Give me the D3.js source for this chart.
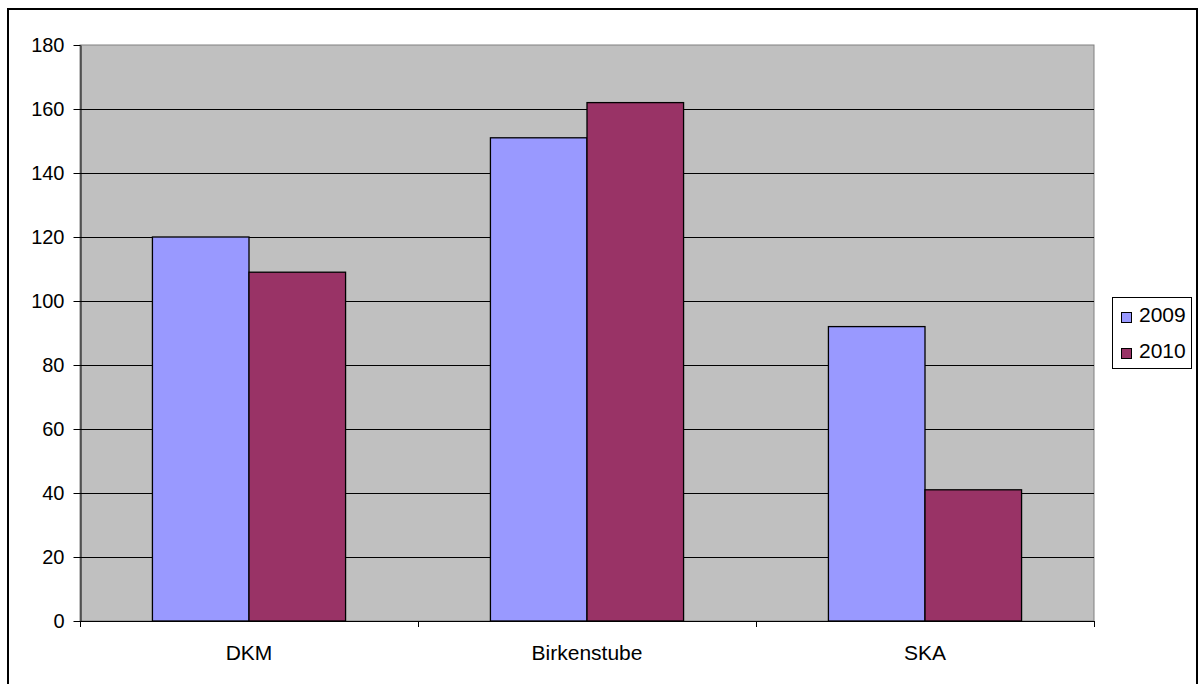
<!DOCTYPE html>
<html>
<head>
<meta charset="utf-8">
<script src="https://cdn.jsdelivr.net/npm/d3@7"></script>
<style>
  html, body { margin: 0; padding: 0; background: #fff; }
  svg { display: block; font-family: "Liberation Sans", Arial, sans-serif; }
</style>
</head>
<body>
<svg id="chart" width="1198" height="684"></svg>
<script>
const categories = ["DKM", "Birkenstube", "SKA"];
const seriesNames = ["2009", "2010"];
const values2009 = [120, 151, 92];
const values2010 = [109, 162, 41];
const yTicks = [0, 20, 40, 60, 80, 100, 120, 140, 160, 180];
const colors = ["#9999FF", "#993366"];

const svg = d3.select("#chart");

// outer chart frame
svg.append("rect")
  .attr("x", 8).attr("y", 9)
  .attr("width", 1189).attr("height", 680)
  .attr("fill", "#fff").attr("stroke", "#000").attr("stroke-width", 2);

const plot = { left: 80, right: 1094, top: 45, bottom: 621 };

const x0 = d3.scaleBand().domain(categories)
  .range([plot.left, plot.right]).paddingInner(0).paddingOuter(0);
const bandW = x0.bandwidth();
const barW = bandW / 3.5; // two bars plus a 150% gap
const x1 = d3.scaleBand().domain(seriesNames)
  .range([0, barW * 2]);

const y = d3.scaleLinear().domain([0, 180]).range([plot.bottom, plot.top]);

// plot area background
svg.append("rect")
  .attr("x", plot.left).attr("y", plot.top)
  .attr("width", plot.right - plot.left).attr("height", plot.bottom - plot.top)
  .attr("fill", "#C0C0C0").attr("stroke", "#808080").attr("stroke-width", 1);

// horizontal gridlines
svg.append("g").selectAll("line")
  .data(yTicks.filter(t => t > 0 && t < 180))
  .join("line")
  .attr("x1", plot.left).attr("x2", plot.right)
  .attr("y1", d => Math.round(y(d)) + 0.5).attr("y2", d => Math.round(y(d)) + 0.5)
  .attr("stroke", "#000").attr("stroke-width", 1);

// bars
const data = categories.map((c, i) => ({ cat: c, vals: [values2009[i], values2010[i]] }));
const groups = svg.append("g").selectAll("g")
  .data(data).join("g")
  .attr("transform", d => `translate(${x0(d.cat) + (bandW - barW * 2) / 2},0)`);
groups.selectAll("rect")
  .data(d => d.vals.map((v, j) => ({ name: seriesNames[j], v, j })))
  .join("rect")
  .attr("x", d => x1(d.name))
  .attr("y", d => y(d.v))
  .attr("width", x1.bandwidth())
  .attr("height", d => y(0) - y(d.v))
  .attr("fill", d => colors[d.j])
  .attr("stroke", "#000").attr("stroke-width", 1.3);

// y axis
const yAxis = d3.axisLeft(y).tickValues(yTicks).tickSize(7).tickSizeOuter(0).tickPadding(9);
const gy = svg.append("g").attr("transform", `translate(${plot.left + 0.5},0)`).call(yAxis);
gy.select(".domain").attr("stroke", "#000");
gy.selectAll(".tick line").attr("stroke", "#000");
gy.selectAll("text").attr("font-size", 20).attr("fill", "#000")
  .attr("font-family", "Liberation Sans, Arial, sans-serif");

// x axis: ticks at category boundaries
svg.append("line")
  .attr("x1", plot.left).attr("x2", plot.right)
  .attr("y1", plot.bottom + 0.5).attr("y2", plot.bottom + 0.5)
  .attr("stroke", "#000");
const bounds = categories.map(c => x0(c)).concat([plot.right]);
svg.append("g").selectAll("line").data(bounds).join("line")
  .attr("x1", d => Math.round(d) + 0.5).attr("x2", d => Math.round(d) + 0.5)
  .attr("y1", plot.bottom).attr("y2", plot.bottom + 6)
  .attr("stroke", "#000");
svg.append("g").selectAll("text").data(categories).join("text")
  .attr("x", d => x0(d) + bandW / 2)
  .attr("y", 660)
  .attr("text-anchor", "middle")
  .attr("font-size", 21)
  .attr("fill", "#000")
  .text(d => d);

// legend
const legend = svg.append("g");
legend.append("rect")
  .attr("x", 1112.5).attr("y", 297.5).attr("width", 79).attr("height", 71)
  .attr("fill", "#fff").attr("stroke", "#000");
seriesNames.forEach((s, i) => {
  const base = 322 + i * 36;
  legend.append("rect")
    .attr("x", 1121.5).attr("y", base - 9.5).attr("width", 10).attr("height", 10)
    .attr("fill", colors[i]).attr("stroke", "#000");
  legend.append("text")
    .attr("x", 1139).attr("y", base)
    .attr("font-size", 21).attr("fill", "#000")
    .text(s);
});
</script>
</body>
</html>
